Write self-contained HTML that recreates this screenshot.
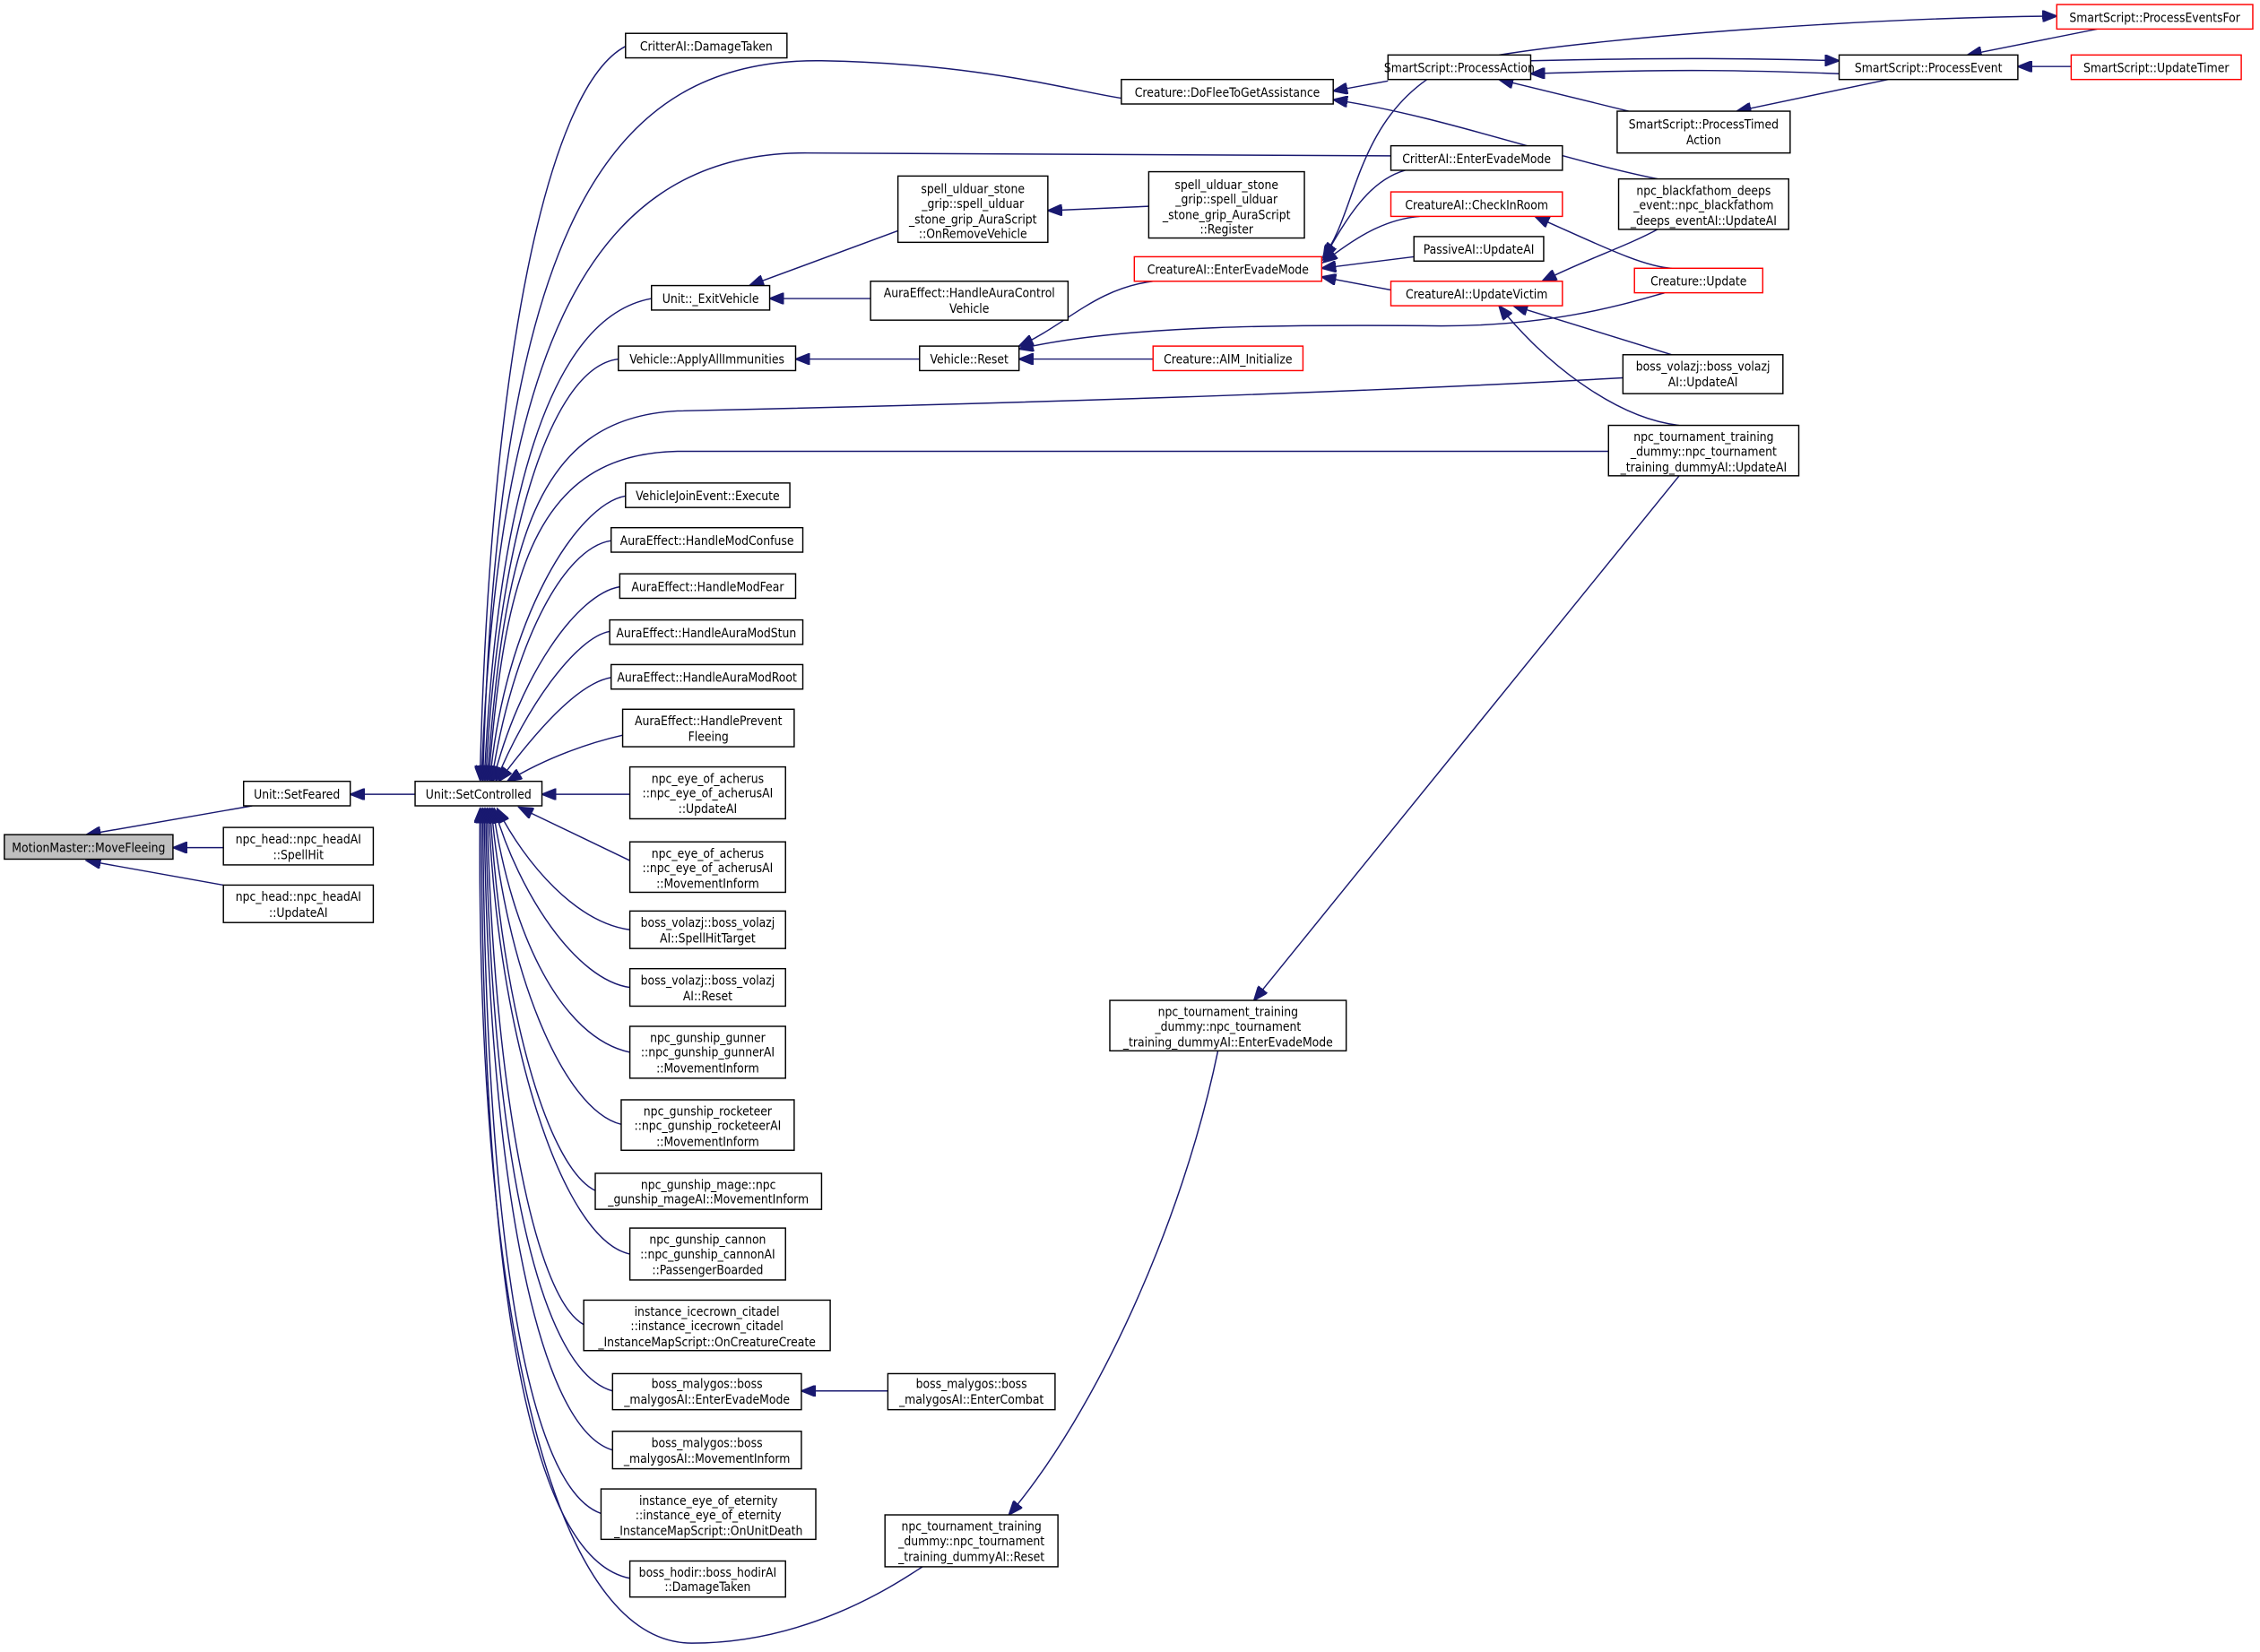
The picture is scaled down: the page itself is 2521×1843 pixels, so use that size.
<!DOCTYPE html>
<html><head><meta charset="utf-8"><style>
html,body{margin:0;padding:0;background:#fff;}
svg{display:block;}
text{font-family:"DejaVu Sans Condensed","DejaVu Sans","Liberation Sans",sans-serif;font-size:8.6px;fill:#000;text-anchor:middle;}
.n{fill:#fff;stroke:#000;stroke-width:0.9;}
.r{fill:#fff;stroke:#ff0000;stroke-width:0.9;}
.g{fill:#bfbfbf;stroke:#000;stroke-width:0.9;}
.e{fill:none;stroke:#191970;stroke-width:0.9;marker-start:url(#a);}
</style></head><body>
<svg width="2521" height="1843" viewBox="0 0 1568 1146" xmlns="http://www.w3.org/2000/svg">
<defs><marker id="a" markerUnits="userSpaceOnUse" markerWidth="11" markerHeight="8" refX="10" refY="4" orient="auto-start-reverse"><path d="M0,0 L10,4 L0,8 z" fill="#191970" stroke="#191970"/></marker></defs>

<!-- edges -->
<path class="e" d="M60,579 L175,559"/>
<path class="e" d="M120,588 L155,588"/>
<path class="e" d="M60,597 L155,614"/>
<path class="e" d="M243,551 L288,551"/>
<path class="e" d="M376,551 L437,551"/>
<path class="e" d="M335,541 C345,160 420,40 570,42 C680,44 740,62 778,68"/>
<path class="e" d="M333,541 C340,250 380,60 434,32"/>
<path class="e" d="M334,541 C345,260 400,105 560,106 L965,108"/>
<path class="e" d="M336,541 C345,350 380,220 452,207"/>
<path class="e" d="M337,541 C345,380 380,255 429,249"/>
<path class="e" d="M338,541 C350,380 370,290 470,285 C700,280 950,272 1126,262"/>
<path class="e" d="M339,541 C350,400 370,315 470,313 L1116,313"/>
<path class="e" d="M340,541 C350,430 400,350 434,344"/>
<path class="e" d="M341,542 C355,450 390,380 424,375"/>
<path class="e" d="M342,542 C360,470 400,412 430,407"/>
<path class="e" d="M344,542 C365,490 400,442 423,438"/>
<path class="e" d="M346,542 C370,510 400,474 424,470"/>
<path class="e" d="M352,542 C380,525 410,515 432,510"/>
<path class="e" d="M360,560 L437,597"/>
<path class="e" d="M345,561 C365,600 400,640 437,645"/>
<path class="e" d="M343,561 C360,620 400,680 437,685"/>
<path class="e" d="M342,561 C355,650 390,720 437,730"/>
<path class="e" d="M341,561 C350,670 390,770 431,780"/>
<path class="e" d="M340,561 C348,700 380,810 413,826"/>
<path class="e" d="M339,561 C345,720 390,860 437,870"/>
<path class="e" d="M338,561 C342,750 370,900 405,919"/>
<path class="e" d="M337,561 C340,780 370,950 425,965"/>
<path class="e" d="M336,561 C338,800 370,990 425,1006"/>
<path class="e" d="M335,561 C336,820 360,1030 417,1050"/>
<path class="e" d="M334,561 C334,850 360,1080 437,1095"/>
<path class="e" d="M333,561 C330,900 380,1140 480,1140 C560,1140 620,1100 640,1087"/>
<path class="e" d="M520,198 L623,160"/>
<path class="e" d="M534,207 L604,207"/>
<path class="e" d="M727,146 L797,143"/>
<path class="e" d="M552,249 L638,249"/>
<path class="e" d="M707,240 C740,225 760,200 800,195"/>
<path class="e" d="M707,242 C780,225 900,225 1000,226 C1080,226 1130,210 1155,203"/>
<path class="e" d="M707,249 L800,249"/>
<path class="e" d="M925,63 L963,56"/>
<path class="e" d="M925,69 C1000,80 1080,110 1150,124"/>
<path class="e" d="M918,178 C940,150 940,90 990,55"/>
<path class="e" d="M918,180 C935,150 950,125 975,118"/>
<path class="e" d="M918,182 C940,165 960,152 985,150"/>
<path class="e" d="M917,186 L981,178"/>
<path class="e" d="M917,192 L970,202"/>
<path class="e" d="M1065,150 C1110,170 1140,185 1160,186"/>
<path class="e" d="M1070,195 C1100,180 1130,170 1150,159"/>
<path class="e" d="M1050,212 L1160,246"/>
<path class="e" d="M1040,212 C1070,250 1120,290 1165,295"/>
<path class="e" d="M1062,51 C1150,48 1200,48 1276,51"/>
<path class="e" d="M1276,42 C1200,40 1150,40 1062,42"/>
<path class="e" d="M1040,55 L1130,77"/>
<path class="e" d="M1205,77 L1310,55"/>
<path class="e" d="M1427,11 C1300,12 1120,25 1040,38"/>
<path class="e" d="M1365,38 L1455,20"/>
<path class="e" d="M1400,46 L1437,46"/>
<path class="e" d="M556,965 L616,965"/>
<path class="e" d="M870,694 L1165,330"/>
<path class="e" d="M700,1051 C760,980 820,850 845,729"/>

<!-- nodes -->
<rect class="g" x="3" y="579" width="117" height="17"/><text x="61.5" y="591">MotionMaster::MoveFleeing</text>
<rect class="n" x="169" y="542" width="74" height="17"/><text x="206" y="554">Unit::SetFeared</text>
<rect class="n" x="155" y="574" width="104" height="26"/><text x="207" y="585">npc_head::npc_headAI</text><text x="207" y="596">::SpellHit</text>
<rect class="n" x="155" y="614" width="104" height="26"/><text x="207" y="625">npc_head::npc_headAI</text><text x="207" y="636">::UpdateAI</text>
<rect class="n" x="288" y="542" width="88" height="17"/><text x="332" y="554">Unit::SetControlled</text>

<rect class="n" x="434" y="23" width="112" height="17"/><text x="490" y="35">CritterAI::DamageTaken</text>
<rect class="n" x="452" y="198" width="82" height="17"/><text x="493" y="210">Unit::_ExitVehicle</text>
<rect class="n" x="429" y="240" width="123" height="17"/><text x="490.5" y="252">Vehicle::ApplyAllImmunities</text>
<rect class="n" x="434" y="335" width="114" height="17"/><text x="491" y="347">VehicleJoinEvent::Execute</text>
<rect class="n" x="424" y="366" width="133" height="17"/><text x="490.5" y="378">AuraEffect::HandleModConfuse</text>
<rect class="n" x="430" y="398" width="122" height="17"/><text x="491" y="410">AuraEffect::HandleModFear</text>
<rect class="n" x="423" y="430" width="134" height="17"/><text x="490" y="442">AuraEffect::HandleAuraModStun</text>
<rect class="n" x="424" y="461" width="133" height="17"/><text x="490.5" y="473">AuraEffect::HandleAuraModRoot</text>
<rect class="n" x="432" y="492" width="119" height="26"/><text x="491.5" y="503">AuraEffect::HandlePrevent</text><text x="491.5" y="514">Fleeing</text>
<rect class="n" x="437" y="532" width="108" height="36"/><text x="491" y="543">npc_eye_of_acherus</text><text x="491" y="553">::npc_eye_of_acherusAI</text><text x="491" y="564">::UpdateAI</text>
<rect class="n" x="437" y="584" width="108" height="35"/><text x="491" y="595">npc_eye_of_acherus</text><text x="491" y="605">::npc_eye_of_acherusAI</text><text x="491" y="616">::MovementInform</text>
<rect class="n" x="437" y="632" width="108" height="26"/><text x="491" y="643">boss_volazj::boss_volazj</text><text x="491" y="654">AI::SpellHitTarget</text>
<rect class="n" x="437" y="672" width="108" height="26"/><text x="491" y="683">boss_volazj::boss_volazj</text><text x="491" y="694">AI::Reset</text>
<rect class="n" x="437" y="712" width="108" height="36"/><text x="491" y="723">npc_gunship_gunner</text><text x="491" y="733">::npc_gunship_gunnerAI</text><text x="491" y="744">::MovementInform</text>
<rect class="n" x="431" y="763" width="120" height="35"/><text x="491" y="774">npc_gunship_rocketeer</text><text x="491" y="784">::npc_gunship_rocketeerAI</text><text x="491" y="795">::MovementInform</text>
<rect class="n" x="413" y="814" width="157" height="25"/><text x="491.5" y="825">npc_gunship_mage::npc</text><text x="491.5" y="835">_gunship_mageAI::MovementInform</text>
<rect class="n" x="437" y="852" width="108" height="36"/><text x="491" y="863">npc_gunship_cannon</text><text x="491" y="873">::npc_gunship_cannonAI</text><text x="491" y="884">::PassengerBoarded</text>
<rect class="n" x="405" y="902" width="171" height="35"/><text x="490.5" y="913">instance_icecrown_citadel</text><text x="490.5" y="923">::instance_icecrown_citadel</text><text x="490.5" y="934">_InstanceMapScript::OnCreatureCreate</text>
<rect class="n" x="425" y="953" width="131" height="25"/><text x="490.5" y="963">boss_malygos::boss</text><text x="490.5" y="974">_malygosAI::EnterEvadeMode</text>
<rect class="n" x="425" y="993" width="131" height="26"/><text x="490.5" y="1004">boss_malygos::boss</text><text x="490.5" y="1015">_malygosAI::MovementInform</text>
<rect class="n" x="417" y="1033" width="149" height="35"/><text x="491.5" y="1044">instance_eye_of_eternity</text><text x="491.5" y="1054">::instance_eye_of_eternity</text><text x="491.5" y="1065">_InstanceMapScript::OnUnitDeath</text>
<rect class="n" x="437" y="1083" width="108" height="25"/><text x="491" y="1094">boss_hodir::boss_hodirAI</text><text x="491" y="1104">::DamageTaken</text>

<rect class="n" x="623" y="122" width="104" height="46"/><text x="675" y="134">spell_ulduar_stone</text><text x="675" y="144">_grip::spell_ulduar</text><text x="675" y="155">_stone_grip_AuraScript</text><text x="675" y="165">::OnRemoveVehicle</text>
<rect class="n" x="604" y="195" width="137" height="27"/><text x="672.5" y="206">AuraEffect::HandleAuraControl</text><text x="672.5" y="217">Vehicle</text>
<rect class="n" x="638" y="240" width="69" height="17"/><text x="672.5" y="252">Vehicle::Reset</text>
<rect class="n" x="616" y="953" width="116" height="25"/><text x="674" y="963">boss_malygos::boss</text><text x="674" y="974">_malygosAI::EnterCombat</text>
<rect class="n" x="614" y="1051" width="120" height="36"/><text x="674" y="1062">npc_tournament_training</text><text x="674" y="1072">_dummy::npc_tournament</text><text x="674" y="1083">_training_dummyAI::Reset</text>
<rect class="n" x="770" y="694" width="164" height="35"/><text x="852" y="705">npc_tournament_training</text><text x="852" y="715">_dummy::npc_tournament</text><text x="852" y="726">_training_dummyAI::EnterEvadeMode</text>

<rect class="n" x="778" y="55" width="147" height="17"/><text x="851.5" y="67">Creature::DoFleeToGetAssistance</text>
<rect class="n" x="797" y="119" width="108" height="46"/><text x="851" y="131">spell_ulduar_stone</text><text x="851" y="141">_grip::spell_ulduar</text><text x="851" y="152">_stone_grip_AuraScript</text><text x="851" y="162">::Register</text>
<rect class="r" x="787" y="178" width="130" height="17"/><text x="852" y="190">CreatureAI::EnterEvadeMode</text>
<rect class="r" x="800" y="240" width="104" height="17"/><text x="852" y="252">Creature::AIM_Initialize</text>

<rect class="n" x="963" y="38" width="99" height="17"/><text x="1012.5" y="50">SmartScript::ProcessAction</text>
<rect class="n" x="965" y="101" width="119" height="17"/><text x="1024.5" y="113">CritterAI::EnterEvadeMode</text>
<rect class="r" x="965" y="133" width="119" height="17"/><text x="1024.5" y="145">CreatureAI::CheckInRoom</text>
<rect class="n" x="981" y="164" width="90" height="17"/><text x="1026" y="176">PassiveAI::UpdateAI</text>
<rect class="r" x="965" y="195" width="119" height="17"/><text x="1024.5" y="207">CreatureAI::UpdateVictim</text>

<rect class="n" x="1122" y="77" width="120" height="29"/><text x="1182" y="89">SmartScript::ProcessTimed</text><text x="1182" y="100">Action</text>
<rect class="n" x="1123" y="124" width="118" height="35"/><text x="1182" y="135">npc_blackfathom_deeps</text><text x="1182" y="145">_event::npc_blackfathom</text><text x="1182" y="156">_deeps_eventAI::UpdateAI</text>
<rect class="r" x="1134" y="186" width="89" height="17"/><text x="1178.5" y="198">Creature::Update</text>
<rect class="n" x="1126" y="246" width="111" height="27"/><text x="1181.5" y="257">boss_volazj::boss_volazj</text><text x="1181.5" y="268">AI::UpdateAI</text>
<rect class="n" x="1116" y="295" width="132" height="35"/><text x="1182" y="306">npc_tournament_training</text><text x="1182" y="316">_dummy::npc_tournament</text><text x="1182" y="327">_training_dummyAI::UpdateAI</text>

<rect class="n" x="1276" y="38" width="124" height="17"/><text x="1338" y="50">SmartScript::ProcessEvent</text>
<rect class="r" x="1427" y="3" width="136" height="17"/><text x="1495" y="15">SmartScript::ProcessEventsFor</text>
<rect class="r" x="1437" y="38" width="118" height="17"/><text x="1496" y="50">SmartScript::UpdateTimer</text>
</svg>
</body></html>
